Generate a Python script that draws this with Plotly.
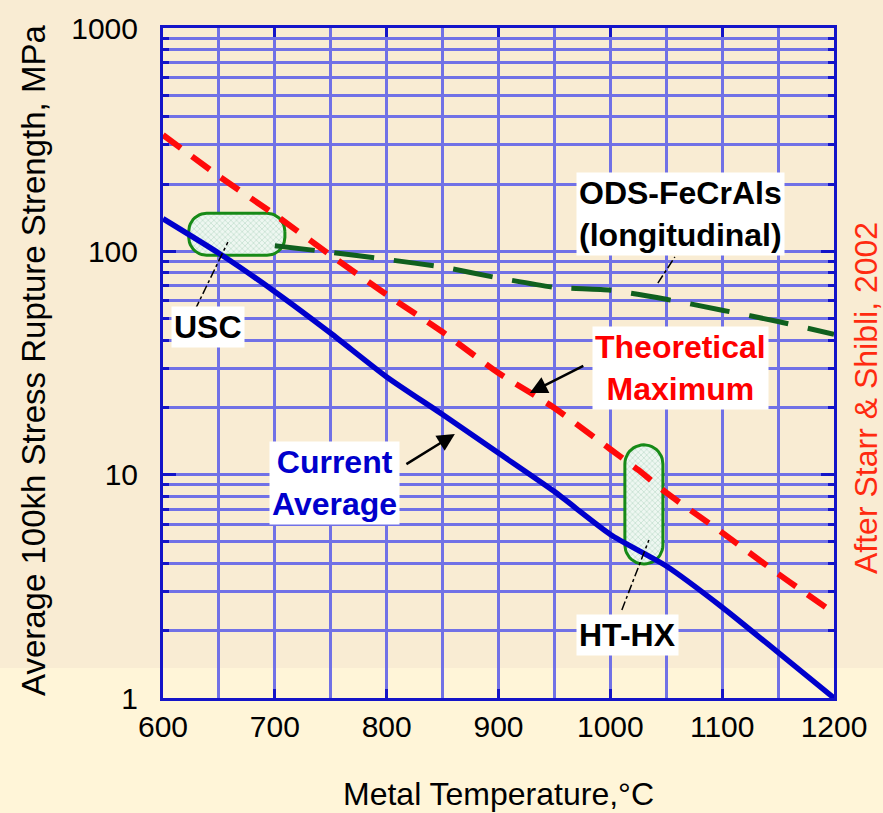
import numpy as np
import plotly.graph_objects as go

# ---- data ----------------------------------------------------------------
# Metal temperature, degC
temp_current = [600, 650, 700, 750, 800, 850, 900, 950, 1000, 1050, 1100, 1150, 1200]
current_average = [140, 98, 66, 43, 27.4, 18.6, 12.5, 8.4, 5.4, 3.9, 2.55, 1.6, 1.0]

temp_theory = [600, 650, 700, 750, 800, 850, 900, 929, 950, 1000, 1025, 1050, 1100, 1150, 1200]
theoretical_max = [332, 217, 146, 96, 64, 43.5, 28.5, 23.2, 19.9, 13.0, 10.5, 8.3, 5.5, 3.6, 2.4]

temp_ods = [700, 750, 800, 850, 900, 950, 1000, 1050, 1100, 1150, 1200]
ods_fecrals = [106, 99, 92, 85, 76, 69, 67, 61, 54.5, 48.5, 42.5]

# Operating windows (temperature span, strength span)
usc_temp = [623, 709]
usc_strength = [96, 148]
hthx_temp = [1013, 1047]
hthx_strength = [3.98, 13.6]

# Callout leader lines (start, end)
usc_leader_t = [628.6, 658]
usc_leader_s = [54.6, 110]
ods_leader_t = [1042.5, 1057.7]
ods_leader_s = [72.1, 94.3]
hthx_leader_t = [1010.3, 1034.5]
hthx_leader_s = [2.48, 5.1]

x_ticks = [600, 700, 800, 900, 1000, 1100, 1200]
y_ticks = [1, 10, 100, 1000]
y_ticktext = ["1", "10", "100", "1000"]
y_minor = [m * d for d in (1, 10, 100) for m in range(2, 10)]

# ---- layout geometry -----------------------------------------------------
W, H = 883, 813
ML, MR, MT, MB = 163, 49, 28, 115
PW, PH = W - ML - MR, H - MT - MB
X_RANGE = (600, 1200)
Y_RANGE = (0, 3)  # log10

FONT = "Arial, 'Liberation Sans', sans-serif"
GRID = "#7171e6"
AXIS = "#1414c8"


def px2paper(px, py):
    return (px - ML) / PW, (MT + PH - py) / PH


def rounded_box(xs, ys, r_px, n=12):
    """Closed outline of a rounded rectangle, rounded in screen space."""
    def to_px(x, y):
        return ((x - X_RANGE[0]) / (X_RANGE[1] - X_RANGE[0]) * PW,
                (np.log10(y) - Y_RANGE[0]) / (Y_RANGE[1] - Y_RANGE[0]) * PH)

    def to_data(u, v):
        return (X_RANGE[0] + u / PW * (X_RANGE[1] - X_RANGE[0]),
                10 ** (Y_RANGE[0] + v / PH * (Y_RANGE[1] - Y_RANGE[0])))

    u0, v0 = to_px(xs[0], ys[0])
    u1, v1 = to_px(xs[1], ys[1])
    r = min(r_px, (u1 - u0) / 2, (v1 - v0) / 2)
    centers = [(u1 - r, v1 - r, 0), (u0 + r, v1 - r, 90),
               (u0 + r, v0 + r, 180), (u1 - r, v0 + r, 270)]
    us, vs = [], []
    for cu, cv, a0 in centers:
        for a in np.linspace(np.radians(a0), np.radians(a0 + 90), n):
            us.append(cu + r * np.cos(a))
            vs.append(cv + r * np.sin(a))
    us.append(us[0])
    vs.append(vs[0])
    pts = [to_data(u, v) for u, v in zip(us, vs)]
    return [p[0] for p in pts], [p[1] for p in pts]


fig = go.Figure()

# Operating windows
hatch = dict(shape="x", size=4, solidity=0.35, fgcolor="#9cc9ae", bgcolor="#eef7f1")
for xs, ys, r in ((usc_temp, usc_strength, 18), (hthx_temp, hthx_strength, 19)):
    bx, by = rounded_box(xs, ys, r)
    fig.add_trace(go.Scatter(
        x=bx, y=by, mode="lines", fill="toself", fillpattern=hatch,
        line=dict(color="#178a17", width=3), hoverinfo="skip"))

# Curves
fig.add_trace(go.Scatter(
    x=temp_ods, y=ods_fecrals, mode="lines", name="ODS-FeCrAls",
    line=dict(color="#10601e", width=5, dash="40px,20px",
              shape="spline", smoothing=0.6)))
fig.add_trace(go.Scatter(
    x=temp_theory, y=theoretical_max, mode="lines", name="Theoretical Maximum",
    line=dict(color="#ff0a0a", width=6, dash="22px,14px",
              shape="spline", smoothing=0.6)))
fig.add_trace(go.Scatter(
    x=temp_current, y=current_average, mode="lines", name="Current Average",
    line=dict(color="#0000cc", width=5.5, shape="spline", smoothing=0.6)))

# Leader lines
for lx, ly in ((usc_leader_t, usc_leader_s), (ods_leader_t, ods_leader_s),
               (hthx_leader_t, hthx_leader_s)):
    fig.add_trace(go.Scatter(
        x=lx, y=ly, mode="lines",
        line=dict(color="black", width=1.5, dash="dashdot"), hoverinfo="skip"))

annotations = []


def label(text, px, py, color):
    xp, yp = px2paper(px, py)
    annotations.append(dict(
        text=text, x=xp, y=yp, xref="paper", yref="paper",
        xanchor="center", yanchor="middle", showarrow=False,
        font=dict(family=FONT, size=32, color=color),
        bgcolor="white", borderpad=2))


label("<b>USC</b>", 208, 327, "black")
label("<b>Current<br>Average</b>", 334, 483, "#0000cc")
label("<b>Theoretical<br>Maximum</b>", 680, 368, "#ff0000")
label("<b>ODS-FeCrAls<br>(longitudinal)</b>", 680, 214, "black")
label("<b>HT-HX</b>", 627, 635, "black")

# Pointer arrows
for hx, hy, ax, ay in ((928, 23.2, 55, -28), (861, 15.2, -50, 31)):
    annotations.append(dict(
        x=hx, y=np.log10(hy), xref="x", yref="y", text="", showarrow=True,
        ax=ax, ay=ay, arrowhead=2, arrowsize=1.4, arrowwidth=2.5,
        arrowcolor="black", standoff=0))

# Axis titles and credit
xp, yp = px2paper(33, 361)
annotations.append(dict(
    text="Average 100kh Stress Rupture Strength, MPa", x=xp, y=yp,
    xref="paper", yref="paper", textangle=-90, showarrow=False,
    xanchor="center", yanchor="middle",
    font=dict(family=FONT, size=33, color="black")))
xp, yp = px2paper(498, 794)
annotations.append(dict(
    text="Metal Temperature,°C", x=xp, y=yp, xref="paper", yref="paper",
    showarrow=False, xanchor="center", yanchor="middle",
    font=dict(family=FONT, size=32, color="black")))
xp, yp = px2paper(866, 398)
annotations.append(dict(
    text="After Starr &amp; Shibli, 2002", x=xp, y=yp, xref="paper", yref="paper",
    textangle=-90, showarrow=False, xanchor="center", yanchor="middle",
    font=dict(family=FONT, size=32, color="#ff2a10")))

# Background: textured beige panel above a paler strip
top_y = px2paper(0, 0)[1]
strip_y = px2paper(0, 668)[1]
shapes = [dict(type="rect", xref="paper", yref="paper",
               x0=px2paper(0, 0)[0], x1=px2paper(W, 0)[0], y0=strip_y, y1=top_y,
               fillcolor="#f9ecd3", line=dict(width=0), layer="below")]

fig.update_layout(
    width=W, height=H,
    margin=dict(l=ML, r=MR, t=MT, b=MB, pad=0),
    paper_bgcolor="#fff5d8", plot_bgcolor="rgba(0,0,0,0)",
    showlegend=False, annotations=annotations, shapes=shapes,
    font=dict(family=FONT, color="black"),
)

fig.update_xaxes(
    range=list(X_RANGE), tickvals=x_ticks, ticks="inside", ticklen=9,
    tickwidth=2.5, tickcolor=AXIS, showline=True, linecolor=AXIS, linewidth=3,
    mirror="ticks", showgrid=True, gridcolor=GRID, gridwidth=3,
    minor=dict(dtick=50, showgrid=True, gridcolor=GRID, gridwidth=3, ticks=""),
    tickfont=dict(family=FONT, size=30, color="black"), zeroline=False,
)
fig.update_yaxes(
    type="log", range=list(Y_RANGE), tickvals=y_ticks, ticktext=y_ticktext,
    ticks="inside", ticklen=13, tickwidth=2.5, tickcolor=AXIS,
    showline=True, linecolor=AXIS, linewidth=3, mirror="ticks",
    showgrid=True, gridcolor=GRID, gridwidth=3,
    minor=dict(tickvals=y_minor, showgrid=True, gridcolor=GRID, gridwidth=3,
               ticks="inside", ticklen=6, tickwidth=2.5, tickcolor=AXIS),
    tickfont=dict(family=FONT, size=30, color="black"), ticklabelstandoff=16,
    zeroline=False,
)

fig.write_html("out.html")
